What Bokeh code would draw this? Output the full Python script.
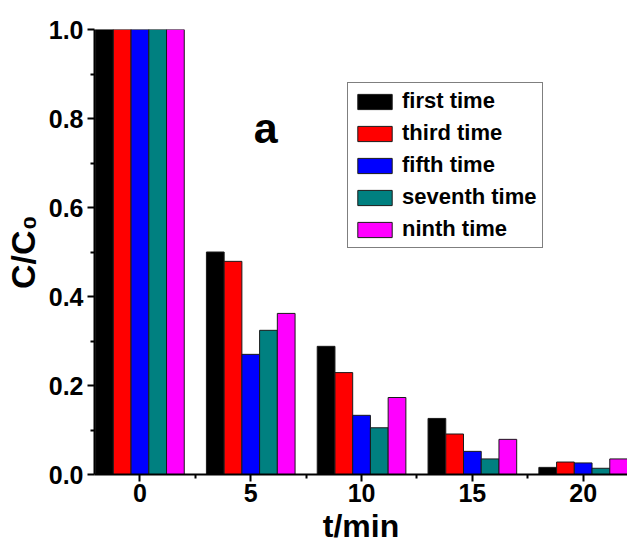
from bokeh.plotting import figure
from bokeh.models import ColumnDataSource, FixedTicker, Label, Range1d, PrintfTickFormatter
from bokeh.transform import dodge
from bokeh.embed import file_html
from bokeh.resources import INLINE

# ---- data ----
times = [0, 5, 10, 15, 20]
first_time = [1.0, 0.500, 0.288, 0.126, 0.016]
third_time = [1.0, 0.479, 0.229, 0.091, 0.028]
fifth_time = [1.0, 0.270, 0.133, 0.052, 0.026]
seventh_time = [1.0, 0.324, 0.105, 0.035, 0.014]
ninth_time = [1.0, 0.362, 0.173, 0.079, 0.035]
series_names = ["first time", "third time", "fifth time", "seventh time", "ninth time"]
x_ticks = [0, 5, 10, 15, 20]
y_ticks = [0.0, 0.2, 0.4, 0.6, 0.8, 1.0]

colors = ["#000000", "#FF0000", "#0000FF", "#008080", "#FF00FF"]
FONT = "Liberation Sans"

source = ColumnDataSource(dict(t=times, s0=first_time, s1=third_time, s2=fifth_time,
                               s3=seventh_time, s4=ninth_time))

p = figure(width=627, height=546, output_backend="svg", toolbar_location=None,
           x_range=Range1d(-2.05, 22.0), y_range=Range1d(0, 1.0),
           min_border_left=93, min_border_right=0, min_border_top=29, min_border_bottom=71)

bw = 0.8
for i, (name, col) in enumerate(zip(series_names, colors)):
    p.vbar(x=dodge("t", (i - 2) * bw, range=p.x_range), top="s%d" % i, width=bw, bottom=0,
           source=source, fill_color=col, line_color="#1a1a1a", line_width=1,
           legend_label=name)

p.xgrid.visible = False
p.ygrid.visible = False
p.outline_line_color = None
p.background_fill_color = "white"
p.border_fill_color = "white"

for ax in (p.xaxis[0], p.yaxis[0]):
    ax.axis_line_width = 2
    ax.axis_line_color = "black"
    ax.major_tick_line_width = 2
    ax.minor_tick_line_width = 2
    ax.major_tick_in = 0
    ax.minor_tick_in = 0
    ax.major_tick_out = 7
    ax.minor_tick_out = 4
    ax.major_label_text_font = FONT
    ax.major_label_text_font_style = "bold"
    ax.major_label_text_font_size = "25px"
    ax.major_label_text_color = "black"
    ax.axis_label_text_font = FONT
    ax.axis_label_text_font_style = "bold"
    ax.axis_label_text_color = "black"

p.xaxis[0].ticker = FixedTicker(ticks=x_ticks, minor_ticks=[2.5, 7.5, 12.5, 17.5])
p.yaxis[0].ticker = FixedTicker(ticks=y_ticks, minor_ticks=[0.1, 0.3, 0.5, 0.7, 0.9])
p.yaxis[0].formatter = PrintfTickFormatter(format="%.1f")
p.xaxis[0].major_label_standoff = 2
p.yaxis[0].major_label_standoff = 4

p.xaxis[0].axis_label = "t/min"
p.xaxis[0].axis_label_text_font_size = "32px"
p.xaxis[0].axis_label_standoff = 3
p.yaxis[0].axis_label = "C/C\u2080"
p.yaxis[0].axis_label_text_font_size = "34px"
p.yaxis[0].axis_label_standoff = 4

p.add_layout(Label(x=5.68, y=0.778, text="a", text_font=FONT, text_font_style="bold",
                   text_font_size="43px", text_align="center", text_baseline="alphabetic",
                   text_color="black"))

lg = p.legend[0]
lg.location = (253, 226)
lg.border_line_color = "black"
lg.border_line_width = 1.5
lg.background_fill_alpha = 1
lg.label_text_font = FONT
lg.label_text_font_style = "bold"
lg.label_text_font_size = "22px"
lg.label_text_color = "black"
lg.glyph_width = 43
lg.glyph_height = 19
lg.label_standoff = 6
lg.spacing = 6
lg.padding = 5
lg.margin = 0

open("out.html", "w").write(file_html(p, INLINE))
